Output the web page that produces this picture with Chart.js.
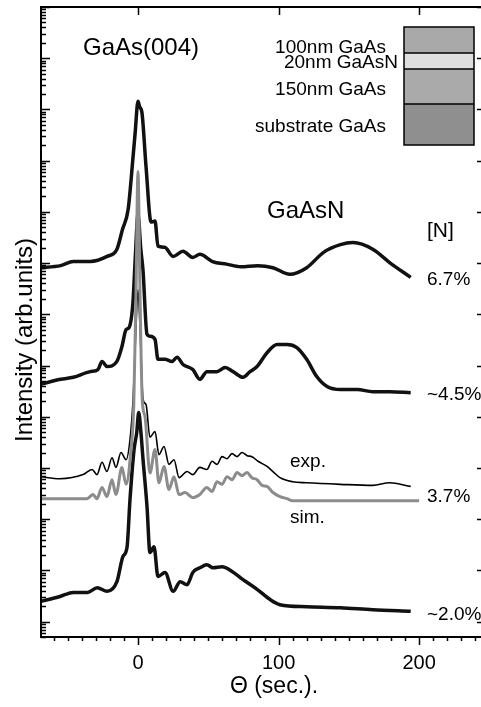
<!DOCTYPE html>
<html>
<head>
<meta charset="utf-8">
<script src="https://cdn.jsdelivr.net/npm/chart.js@4.4.1/dist/chart.umd.min.js"></script>
<style>
  html, body { margin: 0; padding: 0; background: #fff; }
</style>
</head>
<body>
<canvas id="xrd" width="481" height="707"></canvas>
<script>
// GaAs(004) rocking curves, log10 of intensity (arb. units)
const theta67 = [-70,-55,-46,-34,-22,-15,-11,-7,-3.5,-2,0,1.2,2.8,5.7,9.3,12.1,14.2,19,25,32,39,44,53,63,73,85,96,108,120,132,144,153,167,179,194];
const logI67  = [6.91,6.95,7.03,7.03,7.13,7.27,7.66,8.05,9.08,9.55,10.16,10.05,9.94,8.89,7.80,7.82,7.33,7.31,7.13,7.23,7.11,7.17,7.03,6.98,6.93,6.95,6.91,6.78,6.91,7.21,7.36,7.40,7.27,7.01,6.72];

const theta45 = [-70,-55,-46,-34,-28.5,-25.6,-22,-15,-11.4,-8.5,-6.4,-3.6,-2,0,2,3.5,6.4,8.5,12.1,14.2,19.2,24.2,27.8,32,39,44,49,56,62,67.6,74.7,79.7,84.7,91.8,99,106,113,120,127,134.5,144,156,167,179,194];
const logI45  = [4.63,4.73,4.77,4.88,4.92,5.08,4.98,5.08,5.37,5.70,5.74,6.23,7.07,7.95,7.27,6.88,5.61,5.57,5.51,5.12,5.12,5.08,5.16,5.02,4.92,4.73,4.88,4.88,4.96,4.88,4.77,4.88,4.98,5.25,5.41,5.41,5.35,5.12,4.79,4.59,4.53,4.53,4.49,4.49,4.47];

const theta37exp = [-70,-55.5,-39,-32.7,-29.2,-25.6,-22.1,-18.5,-15.7,-12.1,-8.5,-5.7,-3.5,-1.5,0,1.5,3.6,5.7,8.5,12.1,14.9,18.5,22,25.6,29.2,34.9,39,44,49,52.7,56.2,59.8,63.3,66.9,70.5,74,77.6,81.1,85.4,91.8,96,101,110,120,144,167,179,194];
const logI37exp  = [2.83,2.79,2.87,2.97,2.87,3.11,2.93,3.20,3.01,3.30,3.16,3.55,4.34,5.70,6.48,5.70,4.34,4.24,3.60,3.71,3.26,3.42,3.07,3.16,2.81,2.93,2.87,3.01,2.97,3.13,3.07,3.22,3.18,3.28,3.22,3.30,3.24,3.22,3.13,3.03,2.93,2.81,2.73,2.71,2.68,2.66,2.71,2.64];

const theta37sim = [-70,-36.3,-32,-29.2,-25.6,-22.1,-18.5,-15.7,-11.4,-8.5,-5,-3,-1.5,0,1.5,3,5,8.5,12.1,14.9,18.5,22,25.6,29.2,33.5,39,44,49,52.7,56.2,59.8,63.3,66.9,70.5,74,77.5,81,84.7,88.3,91.8,96,101,106,110,200];
const logI37sim  = [2.40,2.40,2.48,2.40,2.62,2.44,2.77,2.48,3.01,2.68,3.36,4.24,6.29,8.79,6.29,4.34,4.00,2.90,3.36,2.71,3.03,2.58,2.83,2.48,2.52,2.42,2.48,2.62,2.54,2.73,2.68,2.83,2.77,2.91,2.85,2.91,2.81,2.77,2.66,2.64,2.52,2.44,2.40,2.36,2.36];

const theta20 = [-70,-55.5,-46,-36,-29,-22,-15,-10.7,-7.8,-5.7,-2.8,-0.9,0.5,2.1,3.6,6.4,8.5,11.4,14.2,19.2,25,30,34.9,39,44,49,53.4,59.8,66.9,74.7,84.7,94,101,120,144,167,194];
const logI20  = [0.39,0.49,0.57,0.57,0.66,0.59,0.78,1.27,1.45,2.38,3.36,3.69,4.08,3.69,3.16,2.25,1.35,1.46,0.88,0.96,0.59,0.78,0.72,0.96,1.05,1.11,1.05,1.07,0.98,0.82,0.63,0.43,0.33,0.29,0.27,0.23,0.20];

const xTickLabels = [0, 100, 200];
const nLabels = ['6.7%', '~4.5%', '3.7%', '~2.0%'];
const layerNames = ['100nm GaAs', '20nm GaAsN', '150nm GaAs', 'substrate GaAs'];

const FONT = "'Liberation Sans', Arial, Helvetica, sans-serif";
Chart.defaults.font.family = FONT;

function pts(xs, ls) {
  return xs.map((t, i) => ({ x: t, y: Math.pow(10, ls[i]) }));
}

// axes frame, ticks, labels and the layer sketch
const decor = {
  id: 'decor',
  afterDraw(chart) {
    const { ctx, chartArea: a, scales: { x, y } } = chart;
    ctx.save();
    ctx.strokeStyle = '#000';
    ctx.lineWidth = 2;
    ctx.beginPath();
    ctx.moveTo(a.right, a.top); ctx.lineTo(a.left, a.top);
    ctx.lineTo(a.left, a.bottom); ctx.lineTo(a.right, a.bottom);
    ctx.stroke();

    ctx.lineWidth = 1.5;
    ctx.beginPath();
    for (let e = -1; e <= 12; e++) {
      for (let m = 1; m <= 9; m++) {
        const v = m * Math.pow(10, e);
        if (v < y.min || v > y.max) continue;
        const py = Math.round(y.getPixelForValue(v)) + 0.5;
        ctx.moveTo(a.left, py); ctx.lineTo(a.left + (m === 1 ? 9 : 5), py);
        if (m === 1) { ctx.moveTo(a.right - 4, py); ctx.lineTo(a.right, py); }
      }
    }
    for (let t = -60; t <= 240; t += 10) {
      const px = Math.round(x.getPixelForValue(t)) + 0.5;
      const major = t % 100 === 0;
      ctx.moveTo(px, a.bottom); ctx.lineTo(px, a.bottom + (major ? 8 : 4));
      if (major) { ctx.moveTo(px, a.top); ctx.lineTo(px, a.top + 8); }
    }
    ctx.stroke();

    // axis titles
    ctx.fillStyle = '#000';
    ctx.textAlign = 'center';
    ctx.textBaseline = 'alphabetic';
    ctx.font = '23px ' + FONT;
    ctx.fillText('\u0398 (sec.).', 274, 693);
    ctx.save();
    ctx.translate(32, 340);
    ctx.rotate(-Math.PI / 2);
    ctx.font = '24px ' + FONT;
    ctx.fillText('Intensity (arb.units)', 0, 0);
    ctx.restore();

    // annotations
    ctx.textAlign = 'left';
    ctx.font = '24px ' + FONT;
    ctx.fillText('GaAs(004)', 83, 55);
    ctx.fillText('GaAsN', 267, 218);
    ctx.font = '21px ' + FONT;
    ctx.fillText('[N]', 427, 237);
    ctx.font = '19px ' + FONT;
    const nBase = [285, 400, 502, 620];
    nLabels.forEach((s, i) => ctx.fillText(s, 427, nBase[i]));
    ctx.fillText('exp.', 290, 467);
    ctx.fillText('sim.', 290, 523);

    // layer stack sketch
    const bx = 404, bw = 70;
    const edges = [27, 53, 69, 104, 145];
    const fills = ['#a9a9a9', '#dedede', '#aaaaaa', '#8f8f8f'];
    for (let i = 0; i < 4; i++) {
      ctx.fillStyle = fills[i];
      ctx.fillRect(bx, edges[i], bw, edges[i + 1] - edges[i]);
    }
    ctx.lineWidth = 1.5;
    ctx.strokeRect(bx, edges[0], bw, edges[4] - edges[0]);
    ctx.beginPath();
    for (let i = 1; i < 4; i++) { ctx.moveTo(bx, edges[i]); ctx.lineTo(bx + bw, edges[i]); }
    ctx.stroke();
    ctx.fillStyle = '#000';
    ctx.textAlign = 'right';
    ctx.font = '19px ' + FONT;
    const lx = [386, 398, 386, 386], lb = [53, 68, 95, 132];
    layerNames.forEach((s, i) => ctx.fillText(s, lx[i], lb[i]));
    ctx.restore();
  }
};

const ctx = document.getElementById('xrd');
const xrdChart = new Chart(ctx, {
  type: 'line',
  data: {
    datasets: [
      { label: 'sim 3.7%', data: pts(theta37sim, logI37sim), borderColor: '#8c8c8c', borderWidth: 3, order: 0 },
      { label: 'exp 3.7%', data: pts(theta37exp, logI37exp), borderColor: '#000', borderWidth: 1.6, order: 1 },
      { label: '6.7%', data: pts(theta67, logI67), borderColor: '#111', borderWidth: 3.5, order: 2 },
      { label: '4.5%', data: pts(theta45, logI45), borderColor: '#111', borderWidth: 3.5, order: 2 },
      { label: '2.0%', data: pts(theta20, logI20), borderColor: '#111', borderWidth: 3.5, order: 2 }
    ]
  },
  options: {
    responsive: false,
    animation: false,
    events: [],
    elements: {
      point: { radius: 0 },
      line: { cubicInterpolationMode: 'monotone', borderJoinStyle: 'round' }
    },
    layout: { padding: { top: 7, right: 0, bottom: 0, left: 0 } },
    plugins: { legend: { display: false }, tooltip: { enabled: false } },
    scales: {
      x: {
        type: 'linear',
        min: -69,
        max: 244,
        afterFit: (s) => { s.height = 70; },
        afterBuildTicks: (s) => { s.ticks = xTickLabels.map(v => ({ value: v })); },
        grid: { display: false, drawTicks: false },
        border: { display: false },
        ticks: { color: '#000', font: { size: 20 }, padding: 14, maxRotation: 0, autoSkip: false }
      },
      y: {
        type: 'logarithmic',
        min: 0.5,
        max: 1e12,
        afterFit: (s) => { s.width = 41; },
        grid: { display: false, drawTicks: false },
        border: { display: false },
        ticks: { display: false }
      }
    }
  },
  plugins: [decor]
});
</script>
</body>
</html>
